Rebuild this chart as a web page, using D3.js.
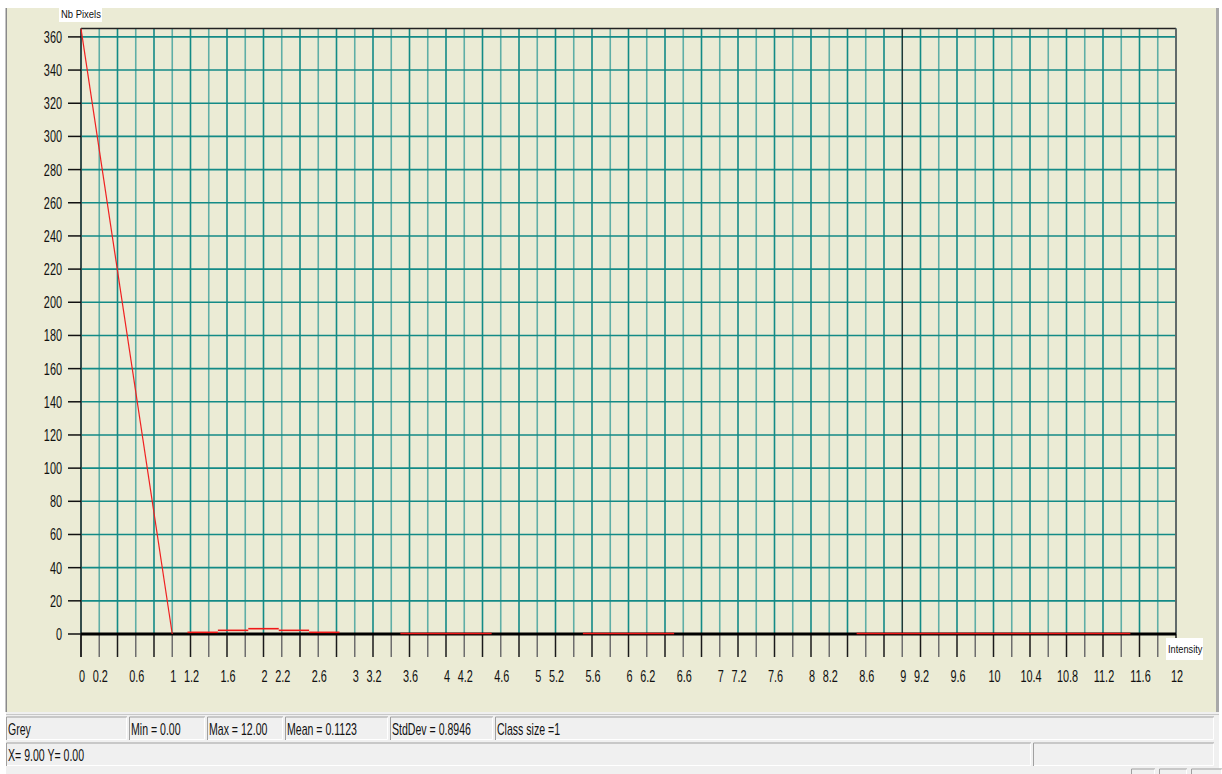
<!DOCTYPE html>
<html><head><meta charset="utf-8">
<script src="https://cdn.jsdelivr.net/npm/d3@7"></script>
<style>html,body{margin:0;padding:0;background:#fff;overflow:hidden}svg{display:block}</style>
</head><body>
<script>
// ---- data ----
const yTickValues = [0,20,40,60,80,100,120,140,160,180,200,220,240,260,280,300,320,340,360];
const xTickLabels = ["0","0.2","0.6","1","1.2","1.6","2","2.2","2.6","3","3.2","3.6","4","4.2","4.6","5","5.2","5.6","6","6.2","6.6","7","7.2","7.6","8","8.2","8.6","9","9.2","9.6","10","10.4","10.8","11.2","11.6","12"];
const peakX = [0, 1];
const peakY = [365, 0];
const stepX0 = [1.167, 1.5, 1.833, 2.167, 2.5, 3.5, 5.5, 8.5];
const stepX1 = [1.5, 1.833, 2.167, 2.5, 2.833, 4.5, 6.5, 11.5];
const stepY  = [1, 2.2, 3.2, 2.2, 1, 0.3, 0.3, 0.3];
const cursorX = 9;
const yAxisTitle = "Nb Pixels";
const xAxisTitle = "Intensity";
const statusRow1 = ["Grey","Min = 0.00","Max = 12.00","Mean = 0.1123","StdDev = 0.8946","Class size =1"];
const statusRow2 = ["X= 9.00  Y= 0.00",""];

// ---- layout ----
const W = 1222, H = 774;
const svg = d3.select("body").append("svg").attr("width", W).attr("height", H);
const FONT = "'Liberation Sans', Arial, sans-serif";

const x = d3.scaleLinear().domain([0, 12]).range([81, 1176]);
const y = d3.scaleLinear().domain([0, 365]).range([634, 28.6]);

// frame
svg.append("rect").attr("x",0).attr("y",0).attr("width",W).attr("height",H).attr("fill","#fff");
svg.append("rect").attr("x",6).attr("y",8).attr("width",1210).attr("height",704).attr("fill","#ebebd5");
svg.append("rect").attr("x",5.5).attr("y",8).attr("width",1.5).attr("height",704).attr("fill","#8a8a8a");
svg.append("rect").attr("x",1216).attr("y",8).attr("width",3).attr("height",704).attr("fill","#a8a8a8");
// status area
svg.append("rect").attr("x",6).attr("y",712).attr("width",1213).attr("height",62).attr("fill","#f0f0f0");
svg.append("line").attr("x1",6).attr("x2",1219).attr("y1",714.5).attr("y2",714.5).attr("stroke","#c8c8c8");

function txt(g, s, tx, ty, size, sx, anchor, fill) {
  return g.append("text").attr("transform", `translate(${tx},${ty}) scale(${sx},1)`)
    .attr("font-family", FONT).attr("font-size", size).attr("text-anchor", anchor || "start")
    .attr("fill", fill || "#111").text(s);
}

// grid
const gridX = d3.range(0, 12.0001, 0.2);
const grid = svg.append("g");
grid.selectAll("line.v").data(gridX).join("line")
  .attr("x1", d => x(d)).attr("x2", d => x(d)).attr("y1", y(365)).attr("y2", y(0))
  .attr("stroke", (d,i) => i % 2 ? "#5faea6" : "#138a86").attr("stroke-width", 1.6);
grid.selectAll("line.h").data(yTickValues.filter(v => v > 0)).join("line")
  .attr("x1", x(0)).attr("x2", x(12)).attr("y1", d => y(d)).attr("y2", d => y(d))
  .attr("stroke", "#138a86").attr("stroke-width", 1.6);

// borders
svg.append("line").attr("x1", x(0)).attr("x2", x(12)).attr("y1", y(365)).attr("y2", y(365)).attr("stroke","#222").attr("stroke-width",1.5);
svg.append("line").attr("x1", x(12)).attr("x2", x(12)).attr("y1", y(365)).attr("y2", y(0)).attr("stroke","#666").attr("stroke-width",1.8);
svg.append("line").attr("x1", x(cursorX)).attr("x2", x(cursorX)).attr("y1", y(365)).attr("y2", y(0)).attr("stroke","#111").attr("stroke-width",1);

// y axis
svg.append("line").attr("x1", x(0)).attr("x2", x(0)).attr("y1", y(365)).attr("y2", 657).attr("stroke","#333").attr("stroke-width",1.5);
const ya = svg.append("g");
ya.selectAll("line").data(yTickValues).join("line")
  .attr("x1", 68).attr("x2", x(0)).attr("y1", d => y(d)).attr("y2", d => y(d))
  .attr("stroke","#111").attr("stroke-width",1.5);
yTickValues.forEach(v => txt(ya, String(v), 62, y(v) + 6, 16.5, 0.66, "end"));

// x axis ticks
const xa = svg.append("g");
xa.selectAll("line").data(gridX).join("line")
  .attr("x1", d => x(d)).attr("x2", d => x(d)).attr("y1", y(0)).attr("y2", 657)
  .attr("stroke", (d,i) => i % 2 ? "#6e6e6e" : "#1a1a1a").attr("stroke-width",1.5);
xTickLabels.forEach(s => txt(xa, s, x(+s) + 1, 682, 16.5, 0.66, "middle"));
// thick zero line
svg.append("line").attr("x1", x(0)).attr("x2", x(12)).attr("y1", y(0)).attr("y2", y(0)).attr("stroke","#000").attr("stroke-width",2.8);

// data line
const line = d3.line().x(d => x(d[0])).y(d => y(d[1]));
svg.append("path").attr("d", line(peakX.map((v,i) => [v, peakY[i]])))
  .attr("fill","none").attr("stroke","#f02020").attr("stroke-width",1.2);
const steps = stepX0.map((v,i) => [[v, stepY[i]], [stepX1[i], stepY[i]]]);
svg.append("g").selectAll("path").data(steps).join("path")
  .attr("d", d => line(d)).attr("fill","none").attr("stroke","#f01818").attr("stroke-width",1.6);

// axis titles with white boxes
svg.append("rect").attr("x",59).attr("y",8).attr("width",43).attr("height",14).attr("fill","#fff");
txt(svg, yAxisTitle, 61, 18, 11, 0.86, "start");
svg.append("rect").attr("x",1166).attr("y",638).attr("width",37).attr("height",22).attr("fill","#fff");
txt(svg, xAxisTitle, 1168, 653, 11, 0.84, "start");

// status panels
function panel(x0, x1, y0, y1) {
  svg.append("rect").attr("x",x0).attr("y",y0).attr("width",x1-x0).attr("height",y1-y0).attr("fill","#f0f0f0");
  svg.append("path").attr("d",`M${x0+0.5},${y1}V${y0+0.5}H${x1}`).attr("fill","none").attr("stroke","#a0a0a0");
  svg.append("path").attr("d",`M${x0+1},${y1-0.5}H${x1-0.5}V${y0+1}`).attr("fill","none").attr("stroke","#ffffff");
}
const row1Edges = [6, 129, 207, 285, 390, 495, 1216];
statusRow1.forEach((s,i) => {
  panel(row1Edges[i], row1Edges[i+1] - 2, 716.5, 740);
  txt(svg, s, row1Edges[i] + 2, 735, 16, 0.66, "start");
});
const row2Edges = [6, 1033, 1216];
statusRow2.forEach((s,i) => {
  panel(row2Edges[i], row2Edges[i+1] - 2, 742.5, 766);
  if (s) txt(svg, s, row2Edges[i] + 2, 761, 16, 0.66, "start");
});
// partial buttons at the bottom edge
[[1131,1155],[1159,1187],[1191,1222]].forEach(b => panel(b[0], b[1], 768.5, 780));
</script>
</body></html>
